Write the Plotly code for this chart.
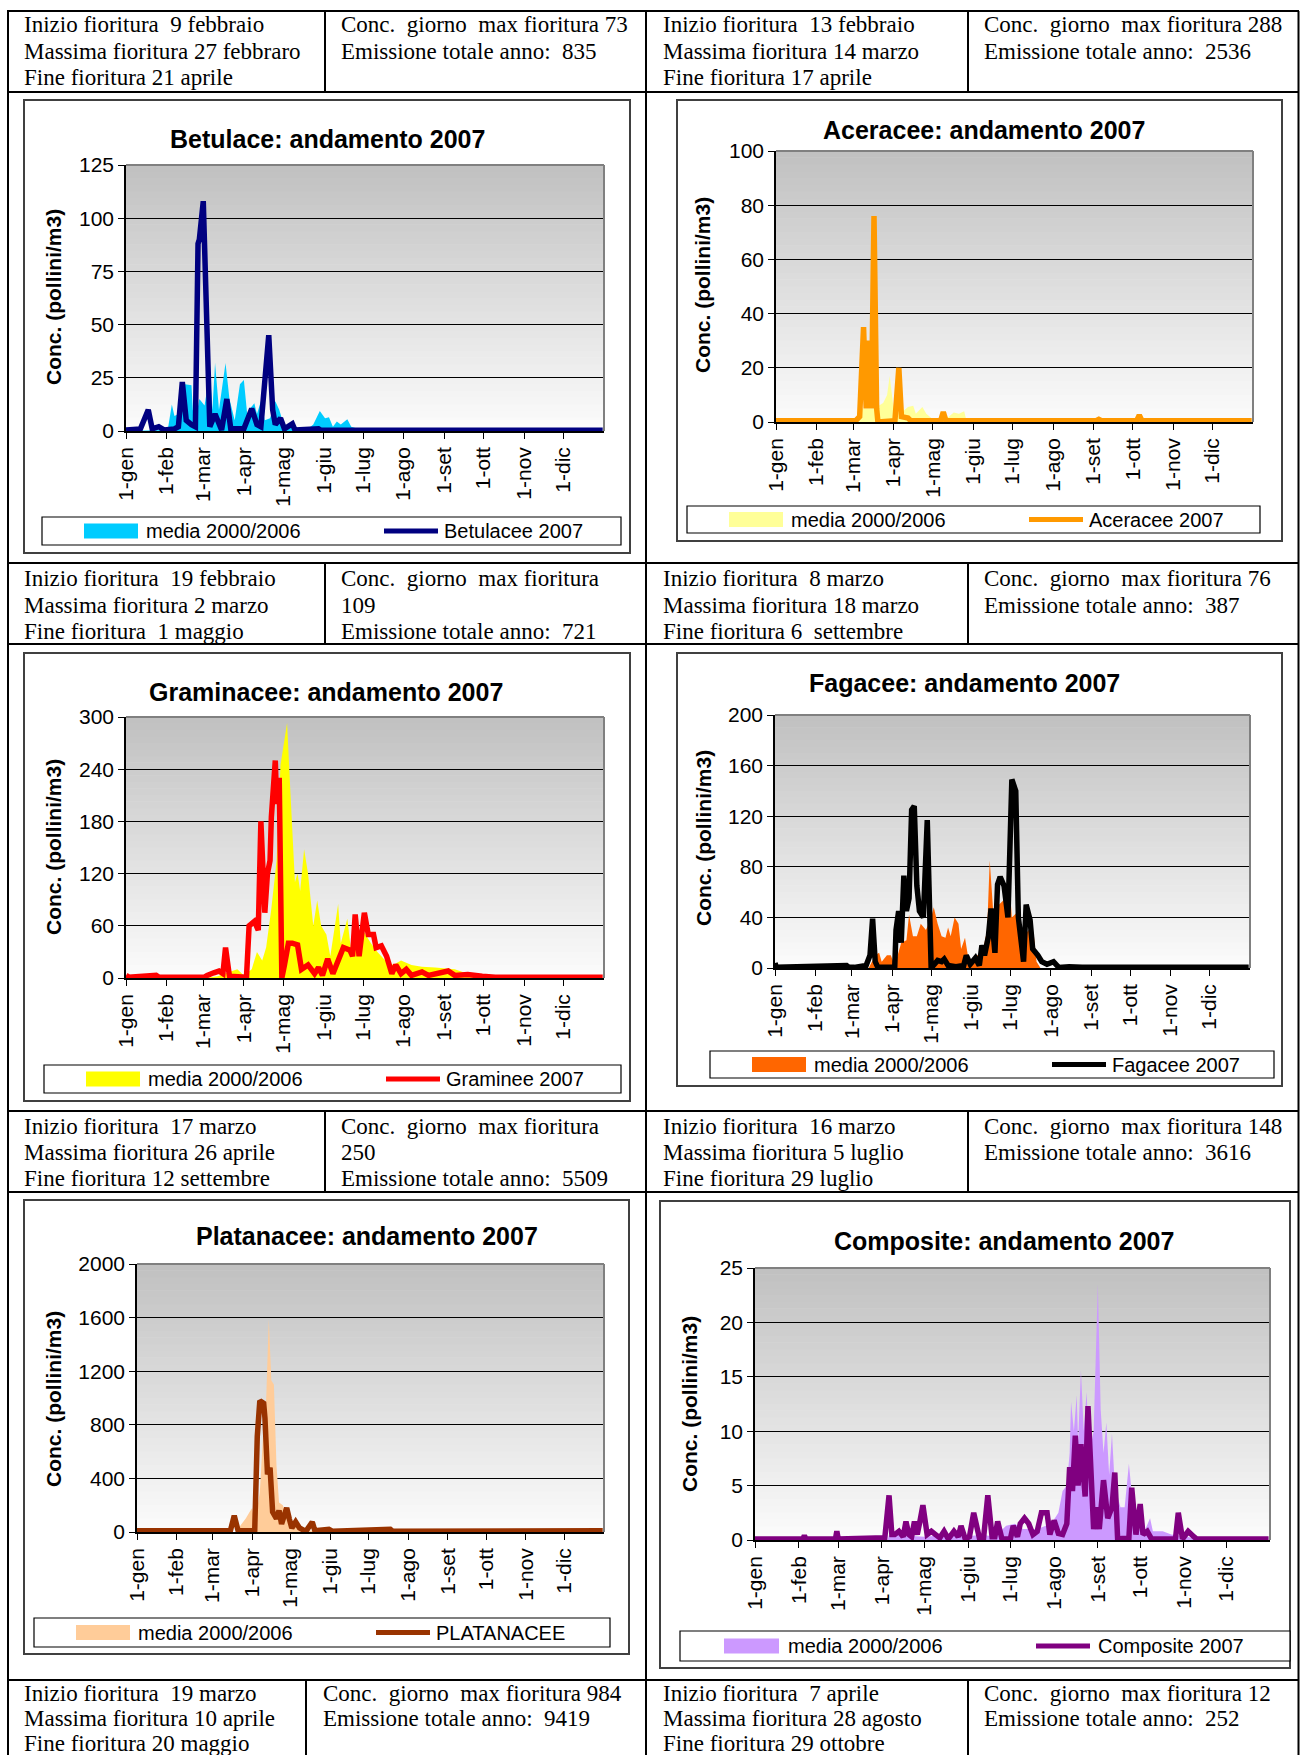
import plotly.graph_objects as go

# ---------------- DATA ----------------
MONTH_START_DAYS = [0, 31, 59, 90, 120, 151, 181, 212, 243, 273, 304, 334]
MONTH_LABELS = ["1-gen", "1-feb", "1-mar", "1-apr", "1-mag", "1-giu",
                "1-lug", "1-ago", "1-set", "1-ott", "1-nov", "1-dic"]

CHART_TITLES = ["Betulace: andamento 2007", "Aceracee: andamento 2007",
                "Graminacee: andamento 2007", "Fagacee: andamento 2007",
                "Platanacee: andamento 2007", "Composite: andamento 2007"]
Y_TITLE = "Conc. (pollini/m3)"
Y_MAX = [125, 100, 300, 200, 2000, 25]
Y_STEP = [25, 20, 60, 40, 400, 5]
MEDIA_LABEL = "media 2000/2006"
LABELS_2007 = ["Betulacee 2007", "Aceracee 2007", "Graminee 2007",
               "Fagacee 2007", "PLATANACEE", "Composite 2007"]

# Betulacee
bet_media_day = [0, 30, 32, 35, 37, 40, 45, 50, 51, 53, 56, 60, 64, 66, 68, 71, 76, 79, 83, 87,
                 90, 93, 94, 98, 100, 103, 106, 110, 114, 117, 121, 129, 139, 143, 148, 152, 155,
                 158, 161, 164, 169, 172, 177, 190, 200, 364]
bet_media_val = [0, 0.5, 1, 12.5, 7, 8, 22, 21.5, 10, 5, 15, 12, 28, 10, 32, 10, 32, 15, 5, 22,
                 24, 5, 10, 13, 8, 14, 5, 6, 14, 10, 2, 1, 1, 3, 9.4, 6, 6.5,
                 2, 4.5, 3, 5.5, 2, 1, 0.5, 0, 0]
bet_2007_day = [0, 10, 11, 17, 20, 25, 29, 37, 40, 43, 46, 50, 53, 55, 56, 59, 63, 64, 68, 73,
                77, 80, 90, 96, 100, 103, 109, 112, 114, 118, 121, 127, 129, 147, 149, 364]
bet_2007_val = [0.5, 0.5, 1, 10, 1, 2, 0.5, 1, 2, 23, 5, 3, 2, 88, 90, 108, 10, 2, 8, 0.5,
                15, 1, 1, 10.5, 3, 2, 45, 10, 3, 6, 1, 3.4, 0.5, 1, 0.3, 0.3]

# Aceracee
ace_media_day = [0, 62, 64, 66, 75, 82, 85, 87, 90, 95, 101, 105, 107, 112, 115, 120, 130, 136,
                 140, 144, 146, 364]
ace_media_val = [0, 0, 3, 5, 5, 7, 10, 17, 5, 3, 5.5, 6, 3, 5.5, 3, 1, 1, 3.5, 3, 4, 0, 0]
ace_2007_day = [0, 45, 46, 47, 61, 64, 67, 69, 71, 73, 75, 77, 78, 91, 94, 96, 101, 103, 126,
                128, 130, 245, 247, 249, 276, 278, 280, 364]
ace_2007_val = [0.5, 0.5, 1, 0.5, 0.5, 2, 35, 5, 30, 5, 76, 5, 0, 0.5, 20, 2, 1.5, 0.5, 0.5,
                3.7, 0.5, 0.5, 1, 0.5, 0.5, 2.5, 0.5, 0.5]

# Graminacee
gra_media_day = [0, 60, 70, 75, 85, 90, 96, 100, 104, 107, 111, 115, 118, 123, 125, 127, 129,
                 131, 133, 136, 139, 143, 146, 149, 153, 156, 162, 164, 169, 172, 177, 181, 187,
                 192, 198, 204, 210, 218, 226, 236, 251, 261, 272, 282, 300, 320, 364]
gra_media_val = [0, 0, 2, 5, 10, 3, 10, 30, 20, 35, 80, 135, 245, 293, 230, 160, 110,
                 120, 100, 148, 120, 60, 89, 60, 50, 25, 85, 40, 68, 30, 45, 55, 40,
                 30, 20, 15, 20, 15, 13, 12, 10, 5, 3, 2, 1, 0.5, 0]
gra_2007_day = [0, 2, 23, 25, 60, 62, 67, 71, 74, 76, 79, 92, 94, 98, 101, 103, 106, 108, 110,
                111, 114, 115, 117, 118, 119, 121, 124, 127, 131, 134, 139, 144, 147, 150, 154,
                158, 163, 166, 171, 173, 175, 178, 182, 185, 189, 191, 195, 199, 203, 206, 210,
                214, 218, 226, 231, 236, 246, 251, 261, 272, 282, 364]
gra_2007_val = [3, 1, 3, 1, 1, 3, 6, 8, 5, 35, 2, 1, 60, 65, 55, 180, 75, 120, 135,
                185, 250, 200, 230, 100, 0, 15, 40, 40, 38, 10, 15, 5, 12, 3, 22,
                5, 25, 35, 32, 25, 73, 25, 75, 50, 50, 35, 37, 25, 5, 15, 5,
                10, 3, 7, 3, 5, 8, 3, 4, 2, 1, 1]

# Fagacee
fag_media_day = [0, 72, 77, 80, 82, 86, 89, 92, 97, 101, 103, 106, 109, 112, 116, 120, 122, 125,
                 128, 131, 133, 135, 138, 141, 143, 146, 149, 152, 155, 159, 163, 165, 168, 172,
                 177, 180, 182, 187, 191, 195, 199, 201, 204, 364]
fag_media_val = [0, 0, 10, 12, 5, 10, 10, 2, 20, 22, 42, 25, 25, 35, 30, 40, 48, 35,
                 25, 24, 32, 25, 40, 35, 15, 24, 5, 5, 10, 10, 30, 85, 40, 50,
                 55, 70, 40, 45, 25, 30, 25, 5, 0, 0]
fag_2007_day = [0, 1, 55, 57, 61, 70, 73, 75, 77, 79, 92, 93, 95, 97, 99, 101, 103, 105, 107,
                109, 111, 114, 117, 119, 120, 125, 128, 130, 133, 139, 145, 147, 150, 154, 157,
                159, 161, 164, 166, 169, 171, 173, 176, 179, 182, 185, 187, 191, 193, 196, 198,
                202, 205, 209, 214, 218, 226, 236, 248, 250, 364]
fag_2007_val = [4, 0.5, 2, 0.5, 0.5, 2, 10, 39, 5, 0.5, 0.5, 30, 45, 20, 73, 45, 55, 125, 128,
                65, 45, 40, 117, 5, 0, 6, 5, 7, 2, 1, 2, 10, 3, 8, 2,
                18, 10, 25, 47, 12, 66, 72, 65, 40, 149, 140, 40, 5, 50, 38, 15,
                10, 5, 3, 5, 0.5, 1, 0.5, 1, 0.5, 0.5]

# Platanacee
pla_media_day = [0, 78, 81, 85, 88, 90, 92, 96, 99, 101, 103, 105, 107, 109, 111, 114, 117, 121,
                 127, 137, 150, 160, 364]
pla_media_val = [0, 0, 50, 100, 150, 180, 50, 300, 800, 1000, 1590, 1130, 1100, 500, 220, 200,
                 120, 60, 20, 10, 5, 0, 0]
pla_2007_day = [0, 73, 76, 79, 92, 94, 96, 99, 100, 102, 104, 106, 109, 111, 113, 117, 119, 121,
                124, 127, 132, 137, 139, 150, 153, 198, 200, 364]
pla_2007_val = [10, 10, 122, 10, 10, 713, 980, 960, 850, 430, 480, 150, 100, 160, 60, 180, 100,
                30, 75, 30, 5, 75, 10, 20, 5, 20, 5, 10]

# Composite
com_media_day = [0, 94, 95, 120, 140, 146, 150, 160, 170, 178, 184, 190, 200, 210, 215, 218, 221,
                 223, 224, 226, 228, 229, 231, 233, 235, 237, 240, 243, 245, 247, 249, 251, 253,
                 255, 259, 262, 265, 268, 272, 276, 280, 282, 289, 295, 307, 313, 364]
com_media_val = [0, 0, 0.5, 0.3, 0.5, 1, 0.3, 0.5, 0.3, 1.3, 1.5, 1, 1, 1.5, 2.5, 4.5, 5,
                 8, 12.7, 10, 13.3, 9, 15.6, 10, 13.6, 8, 10, 23.5, 12, 8, 10.8, 6, 9.8,
                 5, 3, 3, 7, 3, 1, 0.8, 2, 0.8, 0.8, 0.5, 0.3, 0, 0]
com_2007_day = [0, 34, 35, 36, 57, 58, 59, 92, 95, 97, 99, 102, 105, 107, 109, 111, 113, 115,
                117, 119, 122, 125, 128, 131, 134, 137, 141, 144, 146, 149, 152, 155, 159, 162,
                165, 168, 170, 172, 175, 181, 183, 186, 188, 191, 194, 197, 200, 203, 207, 209,
                212, 215, 218, 221, 223, 225, 227, 229, 231, 234, 236, 238, 240, 242, 244, 247,
                250, 253, 255, 257, 265, 267, 270, 273, 275, 278, 281, 298, 300, 303, 307, 311,
                313, 364]
com_2007_val = [0.1, 0.1, 0.4, 0.1, 0.1, 0.8, 0.1, 0.2, 4.1, 0.5, 0.5, 0.8, 0.3, 1.7, 0.5, 0.3,
                1.7, 0.5, 1.8, 3.2, 0.5, 0.8, 0.5, 0.2, 0.8, 0.1, 0.8, 0.3, 1.3, 0.1, 0.3, 2.5,
                0.2, 0.2, 4.1, 0.3, 0.3, 1.7, 0.1, 0.1, 1.3, 0.3, 1.5, 2.0, 1.5, 0.5, 0.8, 2.5,
                2.5, 0.5, 1.8, 0.6, 0.5, 1.5, 6.7, 4.5, 9.6, 5, 8.8, 4, 12.3, 5, 1, 3, 1, 5.5,
                2, 3, 6.2, 0.1, 0.2, 4.8, 0.5, 3.3, 0.5, 0.8, 0.1, 0.1, 2.5, 0.1, 0.8, 0.3,
                0.1, 0.1]

MEDIA_DAYS = [bet_media_day, ace_media_day, gra_media_day, fag_media_day, pla_media_day, com_media_day]
MEDIA_VALS = [bet_media_val, ace_media_val, gra_media_val, fag_media_val, pla_media_val, com_media_val]
Y2007_DAYS = [bet_2007_day, ace_2007_day, gra_2007_day, fag_2007_day, pla_2007_day, com_2007_day]
Y2007_VALS = [bet_2007_val, ace_2007_val, gra_2007_val, fag_2007_val, pla_2007_val, com_2007_val]

# Table texts
txt_r1_a = ["Inizio fioritura  9 febbraio", "Massima fioritura 27 febbraro", "Fine fioritura 21 aprile"]
txt_r1_b = ["Conc.  giorno  max fioritura 73", "Emissione totale anno:  835"]
txt_r1_c = ["Inizio fioritura  13 febbraio", "Massima fioritura 14 marzo", "Fine fioritura 17 aprile"]
txt_r1_d = ["Conc.  giorno  max fioritura 288", "Emissione totale anno:  2536"]
txt_r2_a = ["Inizio fioritura  19 febbraio", "Massima fioritura 2 marzo", "Fine fioritura  1 maggio"]
txt_r2_b = ["Conc.  giorno  max fioritura", "109", "Emissione totale anno:  721"]
txt_r2_c = ["Inizio fioritura  8 marzo", "Massima fioritura 18 marzo", "Fine fioritura 6  settembre"]
txt_r2_d = ["Conc.  giorno  max fioritura 76", "Emissione totale anno:  387"]
txt_r3_a = ["Inizio fioritura  17 marzo", "Massima fioritura 26 aprile", "Fine fioritura 12 settembre"]
txt_r3_b = ["Conc.  giorno  max fioritura", "250", "Emissione totale anno:  5509"]
txt_r3_c = ["Inizio fioritura  16 marzo", "Massima fioritura 5 luglio", "Fine fioritura 29 luglio"]
txt_r3_d = ["Conc.  giorno  max fioritura 148", "Emissione totale anno:  3616"]
txt_r4_a = ["Inizio fioritura  19 marzo", "Massima fioritura 10 aprile", "Fine fioritura 20 maggio"]
txt_r4_b = ["Conc.  giorno  max fioritura 984", "Emissione totale anno:  9419"]
txt_r4_c = ["Inizio fioritura  7 aprile", "Massima fioritura 28 agosto", "Fine fioritura 29 ottobre"]
txt_r4_d = ["Conc.  giorno  max fioritura 12", "Emissione totale anno:  252"]

# ---------------- STYLE / LAYOUT ----------------
W, H = 1300, 1755
MEDIA_COLORS = ["#00CCFF", "#FFFF99", "#FFFF00", "#FF6600", "#FFCC99", "#CC99FF"]
LINE_COLORS = ["#000080", "#FF9900", "#FF0000", "#000000", "#993300", "#800080"]

# pixel boxes
PLOT_BOX = [(126, 165, 604, 431), (776, 151, 1253, 422), (126, 717, 604, 978),
            (775, 715, 1250, 968), (137, 1264, 604, 1532), (755, 1268, 1270, 1540)]
FRAME_BOX = [(24, 100, 630, 553), (677, 100, 1282, 541), (24, 653, 630, 1101),
             (677, 653, 1282, 1086), (24, 1200, 629, 1654), (660, 1201, 1290, 1668)]
LEGEND_BOX = [(42, 517, 621, 545), (687, 506, 1260, 533), (44, 1065, 621, 1093),
              (710, 1051, 1274, 1078), (34, 1618, 610, 1647), (680, 1631, 1290, 1661)]
LEGEND_OFF = [(42, 96, 102, 342, 396, 400)] * 5 + [(44, 99, 106, 356, 410, 416)]
TITLE_POS = [(327, 139), (984, 130), (326, 692), (964, 683), (367, 1236), (1004, 1241)]
YTITLE_POS = [(53, 297), (703, 285), (53, 847), (703, 838), (53, 1399), (689, 1404)]


def px(x):
    return x / W


def py(y):
    return 1 - y / H


SANS = "Liberation Sans"
SERIF = "Liberation Serif"

fig = go.Figure()
shapes = []
annotations = []
layout_axes = {}

for i in range(6):
    n = "" if i == 0 else str(i + 1)
    xa, ya = "x" + n, "y" + n
    x0, y0, x1, y1 = PLOT_BOX[i]
    layout_axes["xaxis" + n] = dict(
        domain=[px(x0), px(x1)], range=[0, 365], anchor=ya, automargin=False,
        tickmode="array", tickvals=MONTH_START_DAYS, ticktext=MONTH_LABELS,
        tickangle=-90, ticks="outside", ticklen=6, tickcolor="black", tickwidth=1,
        showline=True, linecolor="black", linewidth=1.5, showgrid=False, zeroline=False,
        tickfont=dict(family=SANS, size=21, color="black"), fixedrange=True)
    layout_axes["yaxis" + n] = dict(
        domain=[py(y1), py(y0)], range=[0, Y_MAX[i]], anchor=xa, automargin=False,
        tick0=0, dtick=Y_STEP[i], ticks="outside", ticklen=6, tickcolor="black",
        showline=True, linecolor="black", linewidth=1.5, showgrid=True,
        gridcolor="black", gridwidth=1, zeroline=False,
        tickfont=dict(family=SANS, size=21, color="black"), fixedrange=True)

    fig.add_trace(go.Scatter(
        x=MEDIA_DAYS[i], y=MEDIA_VALS[i], mode="lines", fill="tozeroy",
        fillcolor=MEDIA_COLORS[i], line=dict(width=0, color=MEDIA_COLORS[i]),
        xaxis=xa, yaxis=ya, hoverinfo="skip", showlegend=False))
    fig.add_trace(go.Scatter(
        x=Y2007_DAYS[i], y=Y2007_VALS[i], mode="lines",
        line=dict(width=5.5, color=LINE_COLORS[i]),
        xaxis=xa, yaxis=ya, hoverinfo="skip", showlegend=False))

    # gradient background
    nb = 40
    for k in range(nb):
        f = (k + 0.5) / nb
        c = int(round(252 - (252 - 192) * f))
        shapes.append(dict(type="rect", xref=xa + " domain", yref=ya + " domain",
                           x0=0, x1=1, y0=k / nb, y1=(k + 1) / nb + 0.002,
                           fillcolor=f"rgb({c},{c},{c})", line=dict(width=0), layer="below"))
    # gray top and right border
    shapes.append(dict(type="line", xref=xa + " domain", yref=ya + " domain",
                       x0=0, x1=1, y0=1, y1=1, line=dict(color="#808080", width=2)))
    shapes.append(dict(type="line", xref=xa + " domain", yref=ya + " domain",
                       x0=1, x1=1, y0=0, y1=1, line=dict(color="#808080", width=2)))

    # chart frame
    fx0, fy0, fx1, fy1 = FRAME_BOX[i]
    shapes.append(dict(type="rect", xref="paper", yref="paper",
                       x0=px(fx0), x1=px(fx1), y0=py(fy1), y1=py(fy0),
                       line=dict(color="#404040", width=2), layer="below"))

    # legend
    lx0, ly0, lx1, ly1 = LEGEND_BOX[i]
    lc = (ly0 + ly1) / 2
    so0, so1, lt1, lo0, lo1, lt2 = LEGEND_OFF[i]
    shapes.append(dict(type="rect", xref="paper", yref="paper",
                       x0=px(lx0), x1=px(lx1), y0=py(ly1), y1=py(ly0),
                       line=dict(color="black", width=1.2), fillcolor="white", layer="below"))
    shapes.append(dict(type="rect", xref="paper", yref="paper",
                       x0=px(lx0 + so0), x1=px(lx0 + so1), y0=py(lc + 7.5), y1=py(lc - 7.5),
                       line=dict(width=0), fillcolor=MEDIA_COLORS[i]))
    shapes.append(dict(type="line", xref="paper", yref="paper",
                       x0=px(lx0 + lo0), x1=px(lx0 + lo1), y0=py(lc), y1=py(lc),
                       line=dict(color=LINE_COLORS[i], width=5)))
    annotations.append(dict(text=MEDIA_LABEL, x=px(lx0 + lt1), y=py(lc), xref="paper",
                            yref="paper", xanchor="left", yanchor="middle", showarrow=False,
                            font=dict(family=SANS, size=20, color="black")))
    annotations.append(dict(text=LABELS_2007[i], x=px(lx0 + lt2), y=py(lc), xref="paper",
                            yref="paper", xanchor="left", yanchor="middle", showarrow=False,
                            font=dict(family=SANS, size=20, color="black")))

    # title and y-title
    tx, ty = TITLE_POS[i]
    annotations.append(dict(text="<b>" + CHART_TITLES[i] + "</b>", x=px(tx), y=py(ty),
                            xref="paper", yref="paper", xanchor="center", yanchor="middle",
                            showarrow=False, font=dict(family=SANS, size=25, color="black")))
    yx, yy = YTITLE_POS[i]
    annotations.append(dict(text="<b>" + Y_TITLE + "</b>", x=px(yx), y=py(yy),
                            xref="paper", yref="paper", xanchor="center", yanchor="middle",
                            textangle=-90, showarrow=False,
                            font=dict(family=SANS, size=21, color="black")))

# ---------------- TABLE ----------------
def hline(y, xa0, xa1, w=2):
    shapes.append(dict(type="line", xref="paper", yref="paper", x0=px(xa0), x1=px(xa1),
                       y0=py(y), y1=py(y), line=dict(color="black", width=w)))


def vline(x, ya0, ya1, w=2):
    shapes.append(dict(type="line", xref="paper", yref="paper", x0=px(x), x1=px(x),
                       y0=py(ya0), y1=py(ya1), line=dict(color="black", width=w)))


for yy in [11, 92, 563, 644, 1111, 1192, 1680]:
    hline(yy, 7, 1299)
vline(8, 11, 1755)
vline(1298.5, 11, 1755)
vline(646, 11, 1755)
for (a, b) in [(11, 92), (563, 644), (1111, 1192)]:
    vline(325, a, b)
    vline(968, a, b)
vline(306, 1680, 1755)
vline(968, 1680, 1755)

# (x, first-line y, line step, lines)
TEXT_CELLS = [
    (22, 25, 26.3, txt_r1_a), (339, 25, 26.3, txt_r1_b), (661, 25, 26.3, txt_r1_c), (982, 25, 26.3, txt_r1_d),
    (22, 579, 26.3, txt_r2_a), (339, 579, 26.3, txt_r2_b), (661, 579, 26.3, txt_r2_c), (982, 579, 26.3, txt_r2_d),
    (22, 1126, 26.3, txt_r3_a), (339, 1126, 26.3, txt_r3_b), (661, 1126, 26.3, txt_r3_c), (982, 1126, 26.3, txt_r3_d),
    (22, 1693, 25.0, txt_r4_a), (321, 1693, 25.0, txt_r4_b), (661, 1693, 25.0, txt_r4_c), (982, 1693, 25.0, txt_r4_d),
]
for (cx, cy, step, lines) in TEXT_CELLS:
    for j, t in enumerate(lines):
        annotations.append(dict(text=t.replace("  ", "\u00a0 "), x=px(cx), y=py(cy + j * step),
                                xref="paper", yref="paper", xanchor="left", yanchor="middle",
                                showarrow=False, font=dict(family=SERIF, size=23, color="black")))

fig.update_layout(
    template="none",
    width=W, height=H, autosize=False,
    margin=dict(l=0, r=0, t=0, b=0, pad=0, autoexpand=False),
    paper_bgcolor="white", plot_bgcolor="white", showlegend=False,
    shapes=shapes, annotations=annotations, **layout_axes)

fig.write_html("out.html", config={"responsive": False, "displayModeBar": False},
               post_script="document.body.style.margin='0px';document.body.style.padding='0px';document.body.style.overflow='hidden';")
